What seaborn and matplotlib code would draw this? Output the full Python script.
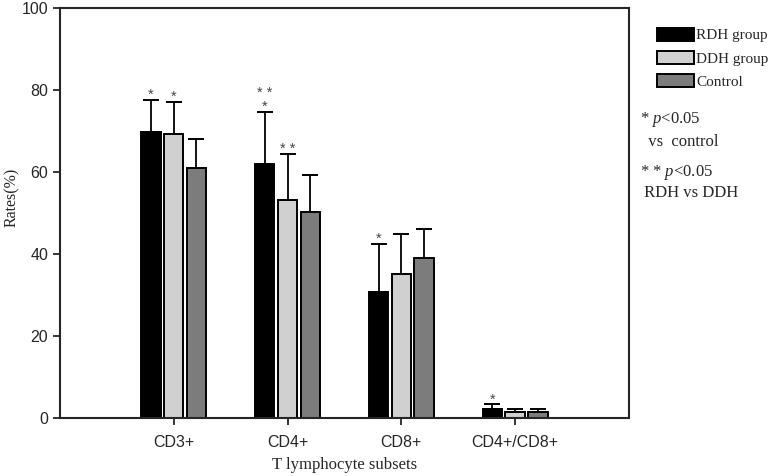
import matplotlib
matplotlib.use("Agg")
import matplotlib.pyplot as plt
import seaborn as sns
import pandas as pd
from matplotlib.patches import Patch

# values (mean and upper SD)
subsets = ["CD3+", "CD4+", "CD8+", "CD4+/CD8+"]
groups = ["RDH group", "DDH group", "Control"]
rdh_mean = [69.8, 62.0, 30.8, 2.2]
rdh_sd = [7.8, 12.7, 11.6, 1.1]
ddh_mean = [69.4, 53.2, 35.1, 1.5]
ddh_sd = [7.7, 11.1, 9.9, 0.8]
ctrl_mean = [61.1, 50.2, 39.0, 1.5]
ctrl_sd = [7.0, 9.1, 7.1, 0.8]
rdh_sig = ["*", "* *\n*", "*", "*"]
ddh_sig = ["*", "* *", "", ""]
ctrl_sig = ["", "", "", ""]

colors = {"RDH group": "#000000", "DDH group": "#d0d0d0", "Control": "#7c7c7c"}

means = [rdh_mean, ddh_mean, ctrl_mean]
sds = [rdh_sd, ddh_sd, ctrl_sd]
sigs = [rdh_sig, ddh_sig, ctrl_sig]

df = pd.DataFrame({
    "subset": subsets * 3,
    "group": [g for g in groups for _ in subsets],
    "rate": rdh_mean + ddh_mean + ctrl_mean,
})

sns.set_style("ticks")
serif = ["Liberation Serif", "DejaVu Serif"]
sans = ["Liberation Sans", "DejaVu Sans"]
plt.rcParams["font.family"] = sans
plt.rcParams["mathtext.fontset"] = "custom"
plt.rcParams["mathtext.rm"] = "Liberation Serif"
plt.rcParams["mathtext.it"] = "Liberation Serif:italic"

fig = plt.figure(figsize=(7.68, 4.76), dpi=100)
ax = fig.add_axes([0.078, 0.122, 0.741, 0.861])

sns.barplot(data=df, x="subset", y="rate", hue="group", order=subsets,
            hue_order=groups, palette=colors, width=0.6, gap=0.15,
            errorbar=None, edgecolor="black", linewidth=1.4, legend=False, ax=ax)

for cont, m, s, sg in zip(ax.containers, means, sds, sigs):
    xs = [p.get_x() + p.get_width() / 2 for p in cont.patches]
    ax.errorbar(xs, m, yerr=[[0] * len(s), s], fmt="none", ecolor="black",
                elinewidth=1.3, capsize=6, capthick=1.4, zorder=3)
    for x, mv, sv, lab in zip(xs, m, s, sg):
        if lab:
            ax.annotate(lab, (x, mv + sv), xytext=(0, -1.5), textcoords="offset points",
                        ha="center", va="bottom", fontsize=10.5, color="#444444",
                        linespacing=0.95)

ax.set_xlim(-1, 4)
ax.set_ylim(0, 100)
ax.set_yticks([0, 20, 40, 60, 80, 100])
for sp in ax.spines.values():
    sp.set_linewidth(1.5)
ax.tick_params(axis="both", direction="out", length=5, width=1.3, labelsize=11.5)
ax.tick_params(axis="x", pad=7)
ax.set_xlabel("T lymphocyte subsets", family=serif, fontsize=12)
ax.set_ylabel("Rates(%)", family=serif, fontsize=11.5)
ax.xaxis.set_label_coords(0.5, -0.095)
ax.yaxis.set_label_coords(-0.07, 0.537)

handles = [Patch(facecolor=colors[g], edgecolor="black", linewidth=1.4, label=g) for g in groups]
fig.legend(handles=handles, loc="upper left", bbox_to_anchor=(0.855, 0.942),
           frameon=False, prop={"family": serif, "size": 11},
           handlelength=2.45, handleheight=0.95, handletextpad=0.15, labelspacing=0.55,
           borderaxespad=0, borderpad=0)

fig.text(0.833, 0.748, "* $\\mathit{p}$<0.05", family=serif, fontsize=12, va="center")
fig.text(0.833, 0.702, "  vs  control", family=serif, fontsize=12, va="center")
fig.text(0.833, 0.637, "* * $\\mathit{p}$<0.05", family=serif, fontsize=12, va="center")
fig.text(0.833, 0.594, " RDH vs DDH", family=serif, fontsize=12, va="center")

fig.savefig("out.png", dpi=100)
